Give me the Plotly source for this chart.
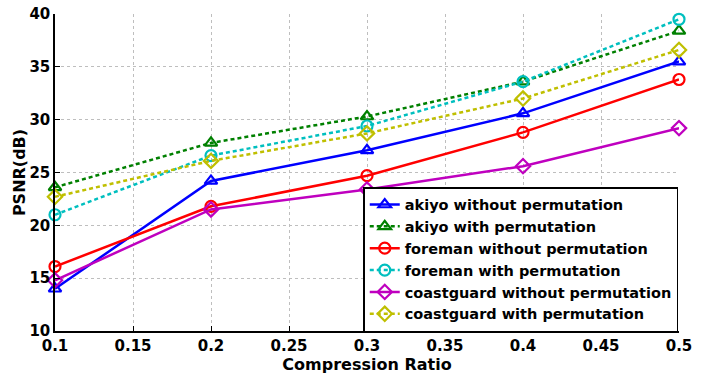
import plotly.graph_objects as go

# Compression ratios tested
ratios = [0.1, 0.2, 0.3, 0.4, 0.5]

# PSNR (dB) per sequence
akiyo_without = [14.0, 24.2, 27.1, 30.6, 35.5]
akiyo_with = [23.6, 27.8, 30.3, 33.6, 38.4]
foreman_without = [16.1, 21.8, 24.7, 28.8, 33.8]
foreman_with = [21.0, 26.6, 29.4, 33.6, 39.5]
coastguard_without = [14.8, 21.5, 23.4, 25.6, 29.2]
coastguard_with = [22.7, 26.1, 28.7, 32.0, 36.6]

series = [
    ("akiyo without permutation", akiyo_without, "rgb(0,0,255)", "triangle-up-open", "solid"),
    ("akiyo with permutation", akiyo_with, "rgb(0,128,0)", "triangle-up-open", "4px,3px"),
    ("foreman without permutation", foreman_without, "rgb(255,0,0)", "circle-open", "solid"),
    ("foreman with permutation", foreman_with, "rgb(0,191,191)", "circle-open", "4px,3px"),
    ("coastguard without permutation", coastguard_without, "rgb(191,0,191)", "diamond-open", "solid"),
    ("coastguard with permutation", coastguard_with, "rgb(191,191,0)", "diamond-open", "4px,3px"),
]

fig = go.Figure()
for name, vals, color, symbol, dash in series:
    fig.add_trace(go.Scatter(
        x=ratios, y=vals, name=name, mode="lines+markers",
        line=dict(color=color, width=2.5, dash=dash),
        marker=dict(symbol=symbol, size=11, color=color, line=dict(width=2.2, color=color)),
        cliponaxis=False,
    ))

font_family = "DejaVu Sans, sans-serif"
fig.update_layout(
    width=705, height=374,
    margin=dict(l=55, r=26, t=14, b=43, autoexpand=False),
    paper_bgcolor="white", plot_bgcolor="white",
    font=dict(family=font_family, color="black"),
    showlegend=True,
    legend=dict(
        x=0.494, y=0.454, xanchor="left", yanchor="top",
        bgcolor="white", bordercolor="black", borderwidth=1.5,
        font=dict(size=14.5, family=font_family, color="black", weight="bold"),
        itemwidth=30, tracegroupgap=0,
    ),
    xaxis=dict(
        range=[0.1, 0.5], tickvals=[0.1, 0.15, 0.2, 0.25, 0.3, 0.35, 0.4, 0.45, 0.5],
        ticktext=["0.1", "0.15", "0.2", "0.25", "0.3", "0.35", "0.4", "0.45", "0.5"],
        showgrid=True, gridcolor="rgb(190,190,190)", griddash="dot", gridwidth=1,
        showline=True, linecolor="black", linewidth=1.5, mirror=False,
        ticks="inside", ticklen=5, tickcolor="black", automargin=False,
        tickfont=dict(size=15, weight="bold"), zeroline=False,
        title=dict(text="Compression Ratio", font=dict(size=16, weight="bold"), standoff=0),
    ),
    yaxis=dict(
        range=[10, 40], tickvals=[10, 15, 20, 25, 30, 35, 40],
        showgrid=True, gridcolor="rgb(190,190,190)", griddash="dot", gridwidth=1,
        showline=True, linecolor="black", linewidth=1.5, mirror=False,
        ticks="inside", ticklen=5, tickcolor="black", automargin=False,
        tickfont=dict(size=15, weight="bold"), zeroline=False,
        title=dict(text="PSNR(dB)", font=dict(size=16, weight="bold"), standoff=0),
    ),
)

fig.write_html("out.html")
